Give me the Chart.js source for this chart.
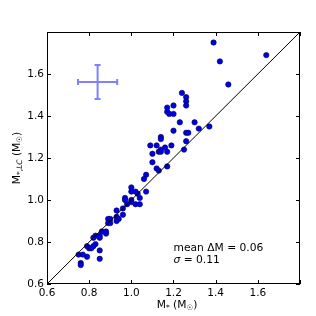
<!DOCTYPE html>
<html>
<head>
<meta charset="utf-8">
<script src="https://cdn.jsdelivr.net/npm/chart.js@4/dist/chart.umd.min.js"></script>
<style>
  body { margin: 0; background: #ffffff; }
  #wrap { width: 316px; height: 316px; }
</style>
</head>
<body>
<div id="wrap"><canvas id="grafico_masas" width="316" height="316"></canvas></div>
<script>
// masas estelares (M*) vs masas por curva de luz (M*,LC)
var masaX = [1.39, 1.42, 1.64, 1.46, 1.24, 1.26, 1.26, 1.26, 1.17, 1.20, 1.17, 1.18, 1.20, 1.23, 1.30,
  1.20, 1.32, 1.37, 1.14, 1.14, 1.26, 1.27, 1.09, 1.12, 1.19, 1.16, 1.26, 1.25, 1.13, 1.14,
  1.14, 1.17, 1.10, 1.10, 1.12, 1.13, 1.17, 1.07, 1.06, 1.07, 1.00, 1.00, 1.02, 1.03, 0.97,
  0.97, 1.00, 1.00, 1.02, 1.04, 1.04, 0.98, 0.96, 0.96, 0.93, 0.93, 0.94, 0.93, 0.89, 0.90,
  0.89, 0.90, 0.86, 0.88, 0.88, 0.85, 0.83, 0.82, 0.85, 0.83, 0.82, 0.79, 0.80, 0.81, 0.79,
  0.85, 0.85, 0.75, 0.77, 0.76, 0.76];
var masaLC = [1.75, 1.66, 1.69, 1.55, 1.51, 1.49, 1.47, 1.45, 1.44, 1.45, 1.42, 1.41, 1.41, 1.37, 1.37,
  1.33, 1.34, 1.35, 1.30, 1.29, 1.32, 1.32, 1.26, 1.26, 1.26, 1.25, 1.28, 1.24, 1.23, 1.24,
  1.23, 1.23, 1.22, 1.18, 1.15, 1.14, 1.16, 1.12, 1.10, 1.04, 1.06, 1.04, 1.04, 1.03, 1.01,
  1.00, 1.00, 0.99, 0.98, 0.98, 1.01, 0.98, 0.96, 0.93, 0.95, 0.92, 0.91, 0.90, 0.91, 0.91,
  0.89, 0.89, 0.85, 0.85, 0.84, 0.83, 0.83, 0.82, 0.82, 0.79, 0.78, 0.78, 0.77, 0.77, 0.73,
  0.76, 0.72, 0.74, 0.74, 0.70, 0.69];

// barra de error tipica
var errorX = [0.84];
var errorY = [1.562];
var errorXerr = [0.093];
var errorYerr = [0.081];

var lineaUno = [0.6, 1.8];
var ticksEje = [0.6, 0.8, 1.0, 1.2, 1.4, 1.6, 1.8];
var textos = ['mean \u0394M = 0.06', ' = 0.11'];

var fuente = 'DejaVu Sans';

function cargarDatos() {
  var puntos = [];
  for (var i = 0; i < masaX.length; i++) {
    puntos.push({ x: masaX[i], y: masaLC[i] });
  }
  var linea = lineaUno.map(function (v) { return { x: v, y: v }; });
  return { puntos: puntos, linea: linea };
}

// marco, ticks hacia adentro, barra de error, textos y titulos
var extras = {
  id: 'extras',
  afterDraw: function (chart) {
    var ctx = chart.ctx;
    var a = chart.chartArea;
    var sx = chart.scales.x, sy = chart.scales.y;
    ctx.save();

    // barra de error
    ctx.strokeStyle = 'rgba(60, 60, 255, 0.65)';
    ctx.lineWidth = 2;
    var cx = sx.getPixelForValue(errorX[0]);
    var cy = sy.getPixelForValue(errorY[0]);
    var x0 = sx.getPixelForValue(errorX[0] - errorXerr[0]);
    var x1 = sx.getPixelForValue(errorX[0] + errorXerr[0]);
    var y0 = sy.getPixelForValue(errorY[0] - errorYerr[0]);
    var y1 = sy.getPixelForValue(errorY[0] + errorYerr[0]);
    ctx.beginPath();
    ctx.moveTo(x0, cy); ctx.lineTo(x1, cy);
    ctx.moveTo(cx, y0); ctx.lineTo(cx, y1);
    ctx.moveTo(x0, cy - 3); ctx.lineTo(x0, cy + 3);
    ctx.moveTo(x1, cy - 3); ctx.lineTo(x1, cy + 3);
    ctx.moveTo(cx - 3, y0); ctx.lineTo(cx + 3, y0);
    ctx.moveTo(cx - 3, y1); ctx.lineTo(cx + 3, y1);
    ctx.stroke();

    // marco
    ctx.strokeStyle = '#000';
    ctx.lineWidth = 1;
    ctx.strokeRect(Math.round(a.left) + 0.5, Math.round(a.top) + 0.5,
      Math.round(a.right - a.left) - 1, Math.round(a.bottom - a.top) - 1);

    // ticks hacia adentro en los cuatro lados
    ctx.beginPath();
    ticksEje.forEach(function (t) {
      var px = Math.round(sx.getPixelForValue(t)) + 0.5;
      ctx.moveTo(px, a.bottom); ctx.lineTo(px, a.bottom - 4);
      ctx.moveTo(px, a.top); ctx.lineTo(px, a.top + 4);
      var py = Math.round(sy.getPixelForValue(t)) + 0.5;
      ctx.moveTo(a.left, py); ctx.lineTo(a.left + 4, py);
      ctx.moveTo(a.right, py); ctx.lineTo(a.right - 4, py);
    });
    ctx.stroke();

    // textos
    ctx.fillStyle = '#000';
    ctx.textBaseline = 'middle';
    ctx.textAlign = 'left';
    ctx.font = '10.7px "' + fuente + '"';
    var tx = sx.getPixelForValue(1.2);
    ctx.fillText(textos[0], tx, sy.getPixelForValue(0.77));
    ctx.font = 'italic 10.7px "' + fuente + '"';
    ctx.fillText('\u03c3', tx, sy.getPixelForValue(0.714));
    var w = ctx.measureText('\u03c3').width;
    ctx.font = '10.7px "' + fuente + '"';
    ctx.fillText(textos[1], tx + w, sy.getPixelForValue(0.714));

    // titulos con subindices
    dibujarTitulo(ctx, [['M', 0, ''], ['*', 1, ''], [' (M', 0, ''], ['\u2609', 1, ''], [')', 0, '']],
      177, 304, 0);
    dibujarTitulo(ctx, [['M', 0, ''], ['*,', 1, ''], ['LC', 1, 'italic '], [' (M', 0, ''], ['\u2609', 1, ''], [')', 0, '']],
      16, (a.top + a.bottom) / 2, -Math.PI / 2);
    ctx.restore();
  }
};

function dibujarTitulo(ctx, partes, x, y, rot) {
  ctx.save();
  ctx.translate(x, y);
  ctx.rotate(rot);
  ctx.textBaseline = 'alphabetic';
  ctx.textAlign = 'left';
  var total = 0;
  partes.forEach(function (p) {
    ctx.font = p[2] + (p[1] ? '7.5px "' : '10.7px "') + fuente + '"';
    total += ctx.measureText(p[0]).width;
  });
  var pos = -total / 2;
  partes.forEach(function (p) {
    ctx.font = p[2] + (p[1] ? '7.5px "' : '10.7px "') + fuente + '"';
    ctx.fillText(p[0], pos, p[1] ? 6 : 4);
    pos += ctx.measureText(p[0]).width;
  });
  ctx.restore();
}

function cargarGrafico() {
  var datos = cargarDatos();
  var ctx = document.getElementById('grafico_masas').getContext('2d');
  var config = {
    type: 'scatter',
    data: {
      datasets: [{
        type: 'line',
        data: datos.linea,
        borderColor: '#000',
        borderWidth: 1,
        pointRadius: 0,
        fill: false,
        order: 0
      }, {
        data: datos.puntos,
        backgroundColor: '#0000e6',
        borderColor: '#000050',
        borderWidth: 0.6,
        pointRadius: 2.7,
        order: 1
      }]
    },
    options: {
      responsive: false,
      animation: false,
      layout: { padding: { left: 0, top: 32, right: 16, bottom: 0 } },
      plugins: { legend: { display: false }, tooltip: { enabled: false } },
      scales: {
        x: {
          type: 'linear', min: 0.6, max: 1.8,
          grid: { drawOnChartArea: false, drawTicks: false },
          border: { display: false },
          afterFit: function (s) { s.height = 32; },
          afterBuildTicks: function (s) { s.ticks = ticksEje.map(function (v) { return { value: v }; }); },
          ticks: {
            padding: 3, color: '#000', maxRotation: 0,
            font: { family: fuente, size: 10.5 },
            callback: function (v) { return v > 1.7 ? '' : v.toFixed(1); }
          }
        },
        y: {
          type: 'linear', min: 0.6, max: 1.8,
          grid: { drawOnChartArea: false, drawTicks: false },
          border: { display: false },
          afterFit: function (s) { s.width = 47; },
          afterBuildTicks: function (s) { s.ticks = ticksEje.map(function (v) { return { value: v }; }); },
          ticks: {
            padding: 3, color: '#000',
            font: { family: fuente, size: 10.5 },
            callback: function (v) { return v > 1.7 ? '' : v.toFixed(1); }
          }
        }
      }
    },
    plugins: [extras]
  };
  new Chart(ctx, config);
}

cargarGrafico();
</script>
</body>
</html>
